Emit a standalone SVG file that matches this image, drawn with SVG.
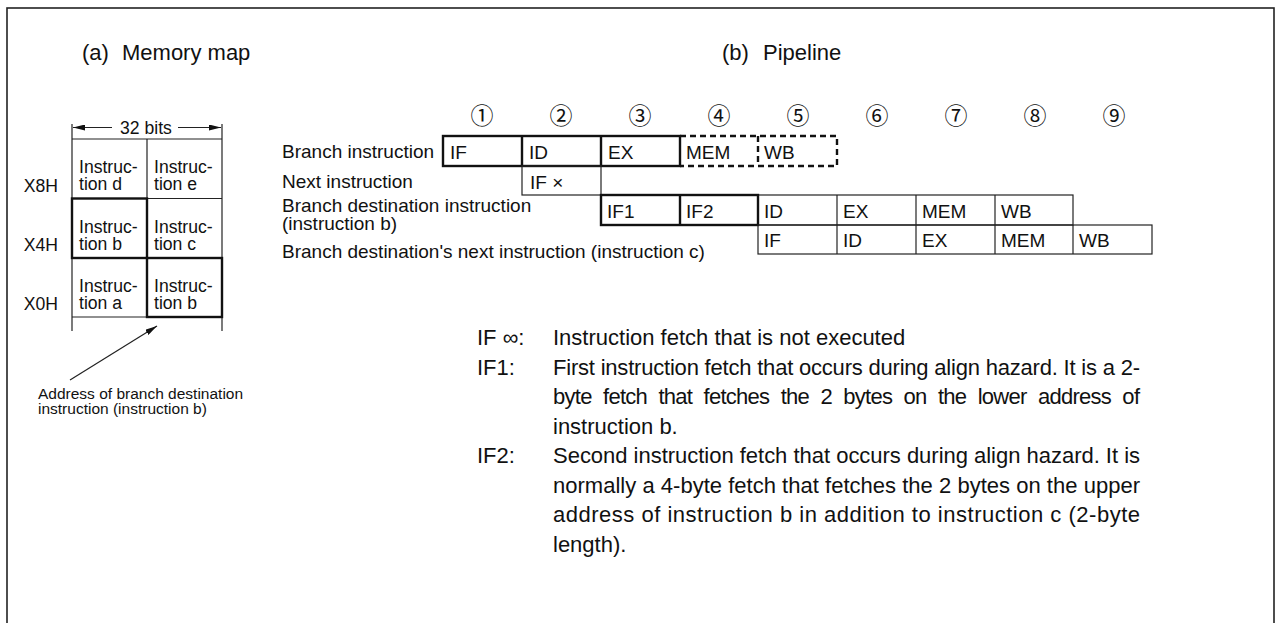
<svg xmlns="http://www.w3.org/2000/svg" width="1275" height="623" viewBox="0 0 1275 623">
<style>
text{font-family:"Liberation Sans",Arial,sans-serif;fill:#111}
.ttl{font-size:22px}
.note{font-size:22px}
.lbl{font-size:19px}
.cell{font-size:19px}
.mm{font-size:17.6px}
.small{font-size:15.5px}
.num{font-family:"Noto Sans CJK JP","DejaVu Sans",sans-serif;font-size:23px;text-anchor:middle;dominant-baseline:central}
.thin{fill:none;stroke:#222;stroke-width:1.2}
.thick{fill:none;stroke:#111;stroke-width:2.4}
.dash{fill:none;stroke:#111;stroke-width:2.4;stroke-dasharray:6 4}
</style>
<defs>
<marker id="ah" viewBox="0 0 12 6" refX="12" refY="3" markerWidth="12" markerHeight="6" markerUnits="userSpaceOnUse" orient="auto">
<path d="M0,0 L12,3 L0,6 Z" fill="#111"/>
</marker>
</defs>
<rect x="7" y="8" width="1267" height="640" fill="none" stroke="#222" stroke-width="1.6"/>

<g id="title-a"><text class="ttl" x="82" y="60">(a)</text><text class="ttl" x="122" y="60">Memory map</text></g>
<g id="title-b"><text class="ttl" x="722" y="60">(b)</text><text class="ttl" x="763" y="60">Pipeline</text></g>

<g id="memory-map">
<g id="width-dim">
<line class="thin" x1="72" y1="124" x2="72" y2="139"/>
<line class="thin" x1="222" y1="124" x2="222" y2="139"/>
<line class="thin" x1="112" y1="127.5" x2="73" y2="127.5" marker-end="url(#ah)"/>
<line class="thin" x1="178" y1="127.5" x2="221" y2="127.5" marker-end="url(#ah)"/>
<text class="mm" x="146" y="133.5" text-anchor="middle">32 bits</text>
</g>
<g id="grid">
<line class="thin" x1="72" y1="139" x2="222" y2="139"/>
<line class="thin" x1="72" y1="198.5" x2="222" y2="198.5"/>
<line class="thin" x1="72" y1="258" x2="222" y2="258"/>
<line class="thin" x1="72" y1="317" x2="222" y2="317"/>
<line class="thin" x1="72" y1="139" x2="72" y2="331"/>
<line class="thin" x1="147" y1="139" x2="147" y2="317"/>
<line class="thin" x1="222" y1="139" x2="222" y2="331"/>
<rect class="thick" x="72" y="198.5" width="75" height="59.5"/>
<rect class="thick" x="147" y="258" width="75" height="59"/>
</g>
<g id="cell-d"><text class="mm" x="79" y="173">Instruc-</text><text class="mm" x="79" y="190">tion d</text></g>
<g id="cell-e"><text class="mm" x="154" y="173">Instruc-</text><text class="mm" x="154" y="190">tion e</text></g>
<g id="cell-b1"><text class="mm" x="79" y="232.5">Instruc-</text><text class="mm" x="79" y="249.5">tion b</text></g>
<g id="cell-c"><text class="mm" x="154" y="232.5">Instruc-</text><text class="mm" x="154" y="249.5">tion c</text></g>
<g id="cell-a"><text class="mm" x="79" y="292">Instruc-</text><text class="mm" x="79" y="309">tion a</text></g>
<g id="cell-b2"><text class="mm" x="154" y="292">Instruc-</text><text class="mm" x="154" y="309">tion b</text></g>
<text class="mm" x="58" y="192" text-anchor="end">X8H</text>
<text class="mm" x="58" y="251" text-anchor="end">X4H</text>
<text class="mm" x="58" y="310" text-anchor="end">X0H</text>
<g id="leader">
<line class="thin" x1="70" y1="380" x2="157" y2="326" marker-end="url(#ah)"/>
<text class="small" x="38" y="399">Address of branch destination</text>
<text class="small" x="38" y="414">instruction (instruction b)</text>
</g>
</g>

<g id="stage-numbers">
<text class="num" x="482" y="114">①</text>
<text class="num" x="561" y="114">②</text>
<text class="num" x="640" y="114">③</text>
<text class="num" x="719" y="114">④</text>
<text class="num" x="798" y="114">⑤</text>
<text class="num" x="877" y="114">⑥</text>
<text class="num" x="956" y="114">⑦</text>
<text class="num" x="1035" y="114">⑧</text>
<text class="num" x="1114" y="114">⑨</text>
</g>

<g id="row-labels">
<text class="lbl" x="282" y="158">Branch instruction</text>
<text class="lbl" x="282" y="188">Next instruction</text>
<text class="lbl" x="282" y="212">Branch destination instruction</text>
<text class="lbl" x="282" y="230">(instruction b)</text>
<text class="lbl" x="282" y="258">Branch destination's next instruction (instruction c)</text>
</g>

<g id="row-branch">
<rect class="thick" x="443" y="136" width="237" height="30"/>
<line class="thick" x1="522" y1="136" x2="522" y2="166"/>
<line class="thick" x1="601" y1="136" x2="601" y2="166"/>
<path class="dash" d="M680,136 H837 V166 H680"/>
<line class="dash" x1="758" y1="136" x2="758" y2="166"/>
<text class="cell" x="450" y="159">IF</text>
<text class="cell" x="529" y="159">ID</text>
<text class="cell" x="608" y="159">EX</text>
<text class="cell" x="686" y="159">MEM</text>
<text class="cell" x="764" y="159">WB</text>
</g>

<g id="row-next">
<rect class="thin" x="522" y="166" width="79" height="29"/>
<text class="cell" x="530" y="188.5">IF ×</text>
</g>

<g id="row-dest">
<rect class="thin" x="758" y="195" width="315" height="30"/>
<line class="thin" x1="837" y1="195" x2="837" y2="225"/>
<line class="thin" x1="916" y1="195" x2="916" y2="225"/>
<line class="thin" x1="995" y1="195" x2="995" y2="225"/>
<rect class="thick" x="601" y="195" width="157" height="30"/>
<line class="thick" x1="680" y1="195" x2="680" y2="225"/>
<text class="cell" x="607" y="218">IF1</text>
<text class="cell" x="686" y="218">IF2</text>
<text class="cell" x="764" y="218">ID</text>
<text class="cell" x="843" y="218">EX</text>
<text class="cell" x="922" y="218">MEM</text>
<text class="cell" x="1001" y="218">WB</text>
</g>

<g id="row-dest-next">
<rect class="thin" x="758" y="225" width="394" height="29"/>
<line class="thin" x1="837" y1="225" x2="837" y2="254"/>
<line class="thin" x1="916" y1="225" x2="916" y2="254"/>
<line class="thin" x1="995" y1="225" x2="995" y2="254"/>
<line class="thin" x1="1073" y1="225" x2="1073" y2="254"/>
<text class="cell" x="764" y="247">IF</text>
<text class="cell" x="843" y="247">ID</text>
<text class="cell" x="922" y="247">EX</text>
<text class="cell" x="1001" y="247">MEM</text>
<text class="cell" x="1079" y="247">WB</text>
</g>

<g id="notes">
<text class="note" x="477" y="345">IF ∞:</text>
<text class="note" x="553" y="345">Instruction fetch that is not executed</text>
<text class="note" x="477" y="374.5">IF1:</text>
<text class="note" x="553" y="374.5" textLength="587" lengthAdjust="spacing">First instruction fetch that occurs during align hazard. It is a 2-</text>
<text class="note" x="553" y="404" textLength="587" lengthAdjust="spacing" style="word-spacing:6px">byte fetch that fetches the 2 bytes on the lower address of</text>
<text class="note" x="553" y="433.5">instruction b.</text>
<text class="note" x="477" y="463">IF2:</text>
<text class="note" x="553" y="463" textLength="587" lengthAdjust="spacing">Second instruction fetch that occurs during align hazard. It is</text>
<text class="note" x="553" y="492.5" textLength="587" lengthAdjust="spacing">normally a 4-byte fetch that fetches the 2 bytes on the upper</text>
<text class="note" x="553" y="522" textLength="587" lengthAdjust="spacing">address of instruction b in addition to instruction c (2-byte</text>
<text class="note" x="553" y="551.5">length).</text>
</g>
</svg>
